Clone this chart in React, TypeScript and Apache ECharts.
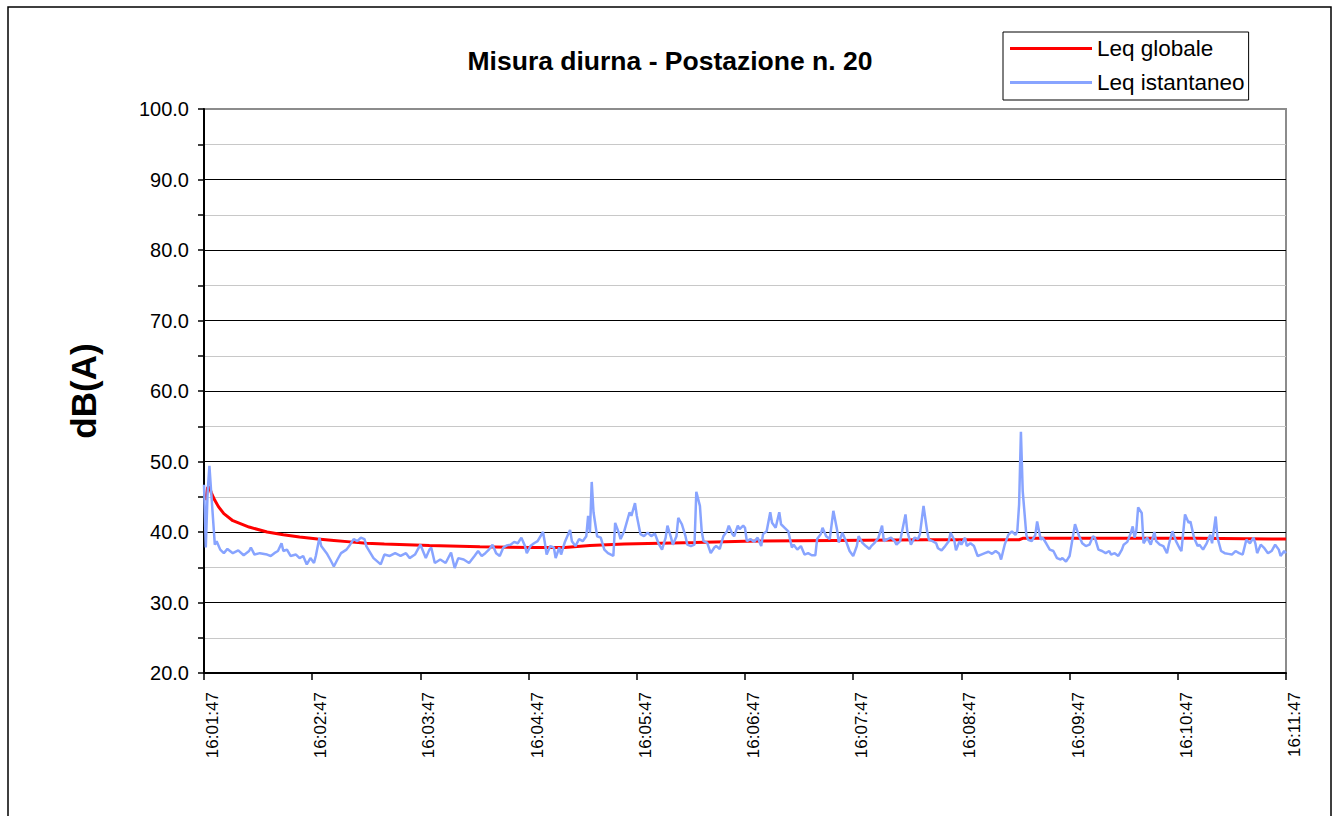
import React, { useEffect, useRef } from "react";
import * as echarts from "echarts";

const chartTitle = "Misura diurna - Postazione n. 20";
const yAxisName = "dB(A)";
const seriesNames = ["Leq globale", "Leq istantaneo"];
const xTickLabels = [
  "16:01:47", "16:02:47", "16:03:47", "16:04:47", "16:05:47", "16:06:47",
  "16:07:47", "16:08:47", "16:09:47", "16:10:47", "16:11:47",
];
const yMin = 20;
const yMax = 100;
const yStep = 10;
const xSpanSeconds = 600;
const xStepSeconds = 60;

// Leq globale (running energy average), seconds from 16:01:47 -> dB(A)
const globaleSeconds = [1, 2, 3, 4, 6, 8, 11, 16, 25, 35, 44, 53, 63, 72, 81, 90, 100, 125, 153, 181, 200, 214, 233, 253, 272, 300, 350, 400, 452, 454, 500, 550, 600];
const globaleDb = [44.5, 46.3, 46.4, 45.6, 44.5, 43.6, 42.6, 41.6, 40.7, 40.0, 39.6, 39.3, 39.0, 38.8, 38.6, 38.4, 38.3, 38.1, 37.9, 37.8, 37.8, 38.1, 38.3, 38.4, 38.5, 38.7, 38.8, 38.9, 38.9, 39.1, 39.1, 39.1, 39.0];

// Leq istantaneo, seconds from 16:01:47 -> dB(A)
const istantaneoSeconds = [
  0, 1, 2, 3, 4, 6, 7, 9, 11, 13, 16, 19, 22, 25, 26, 28, 31, 35, 37, 39, 41, 43, 44, 46, 48, 51, 53, 55, 57, 59, 61, 62, 64, 65, 68, 70, 72, 74, 76, 79, 81, 83, 85, 87, 89, 90, 94, 98,
  100, 103, 106, 109, 112, 114, 117, 120, 123, 125, 126, 128, 131, 134, 137, 139, 141, 144, 147, 150, 152, 154, 156, 158, 160, 162, 164, 166, 168, 170, 172, 174, 176, 178, 179, 181, 183, 185, 188, 189, 190, 192, 194, 195, 197,
  198, 200, 202, 203, 204, 206, 208, 210, 212, 213, 214, 215, 216, 218, 220, 222, 224, 227, 228, 230, 231, 233, 236, 237, 239, 240, 242, 244, 246, 248, 250, 252, 254, 256, 257, 259, 260, 262, 263, 265, 267, 268, 270, 272, 273, 275, 276, 277, 279, 281, 283, 284, 286, 288, 290, 291, 293, 294, 296, 297, 299,
  300, 301, 303, 305, 307, 309, 310, 312, 314, 315, 317, 319, 320, 322, 324, 326, 327, 329, 331, 333, 335, 337, 339, 340, 342, 343, 345, 347, 349, 351, 352, 354, 356, 358, 360, 362, 363, 365, 367, 369, 370, 372, 374, 376, 377, 379, 381, 383, 384, 386, 389, 390, 392, 394, 396, 397, 399,
  401, 402, 404, 406, 407, 409, 411, 413, 414, 416, 417, 419, 420, 422, 423, 425, 427, 429, 431, 433, 435, 437, 439, 441, 442, 444, 446, 448, 450, 451, 452, 453, 454, 456, 457, 459, 461, 462, 464, 465, 467, 469, 471, 473, 475, 476, 478, 480, 482, 483, 485, 487, 489, 491, 493, 494, 496, 498,
  500, 502, 503, 505, 507, 509, 510, 512, 514, 515, 516, 517, 518, 520, 521, 523, 525, 527, 528, 530, 532, 534, 535, 537, 539, 541, 542, 544, 546, 547, 549, 551, 552, 554, 556, 558, 559, 561, 562, 564, 566, 568, 570, 572, 574, 576, 578, 580, 582, 583, 584, 586, 588, 590, 592, 594, 596, 597, 599, 600,
];
const istantaneoDb = [
  46.7, 37.8, 45.6, 49.4, 45.6, 38.2, 38.7, 37.5, 37.0, 37.6, 37.0, 37.4, 36.7, 37.3, 37.8, 36.8, 37.0, 36.8, 36.6, 37.0, 37.3, 38.4, 37.3, 37.5, 36.6, 36.8, 36.3, 36.6, 35.4, 36.3, 35.6, 36.6, 39.2, 38.0, 37.0, 36.1, 35.1, 36.1, 37.0, 37.5, 38.2, 39.0, 38.7, 39.2, 39.0, 38.0, 36.3, 35.4,
  36.8, 36.6, 37.0, 36.6, 37.0, 36.3, 36.8, 38.2, 36.3, 37.5, 37.8, 35.6, 36.1, 35.6, 37.1, 34.9, 36.3, 36.1, 35.6, 36.6, 37.3, 36.6, 37.0, 37.5, 38.2, 37.0, 36.6, 37.8, 38.1, 38.2, 38.6, 38.4, 39.2, 38.0, 37.0, 38.0, 38.4, 38.7, 40.0, 38.5, 36.8, 38.0, 37.8, 36.3, 37.8,
  36.8, 38.5, 39.7, 40.3, 38.7, 38.0, 39.0, 38.7, 39.4, 42.3, 39.9, 47.1, 42.8, 39.4, 39.2, 37.5, 37.0, 36.6, 41.3, 39.9, 39.0, 40.1, 42.8, 42.3, 44.1, 42.3, 39.7, 39.4, 39.9, 39.4, 39.8, 38.4, 37.5, 39.2, 40.9, 39.2, 38.2, 39.4, 42.0, 41.1, 39.4, 38.2, 38.0, 38.2, 45.7, 43.7, 40.1, 38.7, 38.5, 37.0, 37.8, 38.0, 37.6, 39.4, 40.1, 40.9, 39.7, 39.4, 40.9, 40.4, 40.9,
  40.6, 38.7, 39.0, 38.6, 39.2, 38.0, 39.7, 40.1, 42.8, 41.3, 40.6, 42.8, 41.1, 40.6, 40.1, 37.8, 38.2, 37.5, 38.0, 36.8, 37.0, 36.7, 36.7, 39.0, 39.7, 40.6, 39.4, 39.0, 43.0, 40.4, 38.5, 39.9, 38.7, 37.3, 36.6, 38.0, 39.4, 38.5, 38.0, 37.6, 38.0, 38.5, 39.2, 40.9, 38.7, 39.0, 39.2, 38.7, 38.2, 38.7, 42.5, 40.1, 38.2, 39.2, 39.0, 39.7, 43.7,
  40.1, 38.9, 38.7, 38.4, 37.7, 37.4, 38.0, 38.7, 39.9, 38.9, 37.4, 38.7, 38.2, 39.2, 38.0, 38.4, 38.0, 36.6, 36.8, 37.0, 37.2, 36.9, 37.3, 36.9, 36.1, 38.2, 39.6, 40.1, 39.6, 40.1, 43.9, 54.2, 45.8, 39.6, 38.9, 38.7, 39.6, 41.5, 38.9, 39.2, 38.4, 37.5, 37.3, 36.3, 36.1, 36.3, 35.8, 36.6, 39.6, 41.1, 39.6, 38.4, 38.0, 38.2, 39.4, 39.2, 37.5, 37.3,
  37.0, 37.3, 36.8, 37.0, 36.6, 37.5, 38.2, 38.6, 39.9, 40.8, 39.2, 40.2, 43.5, 42.7, 38.4, 39.2, 38.2, 40.0, 38.7, 38.2, 38.0, 37.0, 38.2, 40.1, 38.7, 37.7, 37.3, 42.5, 41.3, 41.5, 39.2, 38.0, 38.2, 37.5, 38.4, 39.6, 38.4, 42.2, 39.2, 37.3, 37.0, 36.9, 36.8, 37.3, 37.0, 36.8, 38.9, 38.4, 39.2, 38.4, 37.0, 38.2, 37.7, 37.0, 37.3, 38.2, 37.5, 36.6, 37.3, 37.0,
];

const FONT = "'Liberation Sans', Arial, Helvetica, sans-serif";
const RED = "#ff0000";
const BLUE = "#88a4ff";

export default function App() {
  const ref = useRef<HTMLDivElement>(null);

  useEffect(() => {
    if (!ref.current) return;
    const chart = echarts.init(ref.current, undefined, { renderer: "svg" });
    const option: any = {
      animation: false,
      backgroundColor: "#ffffff",
      textStyle: { fontFamily: FONT, color: "#000" },
      title: {
        text: chartTitle,
        left: "center",
        top: 42,
        textStyle: { fontFamily: FONT, fontSize: 26.5, fontWeight: "bold", color: "#000" },
      },
      legend: {
        data: seriesNames,
        orient: "vertical",
        left: 1003,
        top: 32,
        icon: "rect",
        itemWidth: 82,
        itemHeight: 3,
        itemGap: 11,
        padding: [5, 4, 6, 7],
        borderColor: "#000",
        borderWidth: 1,
        backgroundColor: "#fff",
        textStyle: { fontFamily: FONT, fontSize: 22.5, color: "#000" },
      },
      grid: {
        left: 204,
        top: 109,
        width: 1082,
        height: 564,
        show: true,
        borderColor: "#8c8c8c",
        borderWidth: 2,
        backgroundColor: "#fff",
      },
      xAxis: {
        type: "value",
        min: 0,
        max: xSpanSeconds,
        interval: xStepSeconds,
        axisLine: { show: true, lineStyle: { color: "#000", width: 2 } },
        axisTick: { show: true, length: 7, lineStyle: { color: "#000", width: 1.5 } },
        axisLabel: {
          rotate: 90,
          fontFamily: FONT,
          fontSize: 17,
          color: "#000",
          margin: 19,
          verticalAlign: "top",
          formatter: (v: number) => xTickLabels[Math.round(v / xStepSeconds)] ?? "",
        },
        splitLine: { show: false },
      },
      yAxis: {
        type: "value",
        min: yMin,
        max: yMax,
        interval: yStep,
        name: yAxisName,
        nameLocation: "middle",
        nameRotate: 90,
        nameGap: 103,
        nameTextStyle: { fontFamily: FONT, fontSize: 35, fontWeight: "bold", color: "#000" },
        axisLine: { show: true, lineStyle: { color: "#000", width: 2 } },
        axisTick: { show: true, length: 6, lineStyle: { color: "#000", width: 1.5 } },
        minorTick: { show: true, splitNumber: 2, length: 6, lineStyle: { color: "#000", width: 1.5 } },
        axisLabel: {
          fontFamily: FONT,
          fontSize: 20,
          color: "#000",
          margin: 15,
          formatter: (v: number) => v.toFixed(1),
        },
        splitLine: { show: true, showMinLine: false, showMaxLine: false, lineStyle: { color: "#000", width: 1 } },
        minorSplitLine: { show: true, lineStyle: { color: "#c8c8c8", width: 1 } },
      },
      graphic: [
        {
          type: "rect",
          silent: true,
          shape: { x: 8, y: 7, width: 1323, height: 840 },
          style: { fill: "none", stroke: "#000", lineWidth: 1.5 },
        },
      ],
      series: [
        {
          name: seriesNames[0],
          type: "line",
          data: globaleSeconds.map((t, i) => [t, globaleDb[i]]),
          symbol: "none",
          showSymbol: false,
          itemStyle: { color: RED },
          lineStyle: { color: RED, width: 3 },
          z: 2,
        },
        {
          name: seriesNames[1],
          type: "line",
          data: istantaneoSeconds.map((t, i) => [t, istantaneoDb[i]]),
          symbol: "none",
          showSymbol: false,
          itemStyle: { color: BLUE },
          lineStyle: { color: BLUE, width: 2.5 },
          z: 3,
        },
      ],
    };
    chart.setOption(option);
    return () => chart.dispose();
  }, []);

  return (
    <div
      ref={ref}
      style={{ position: "fixed", left: 0, top: 0, width: 1340, height: 816, background: "#fff" }}
    />
  );
}
